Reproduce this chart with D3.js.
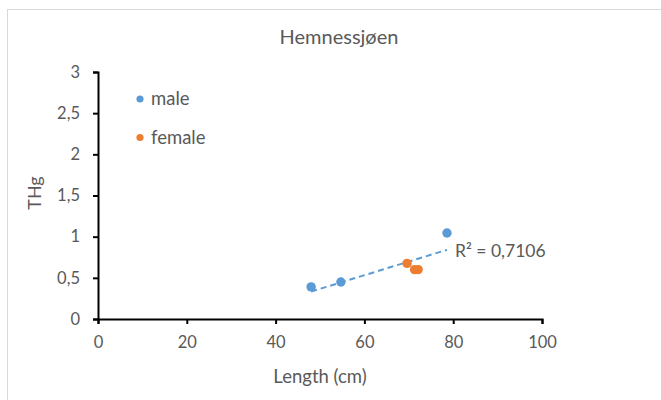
<!DOCTYPE html>
<html>
<head>
<meta charset="utf-8">
<script src="https://cdn.jsdelivr.net/npm/d3@7"></script>
<style>
  html, body { margin: 0; padding: 0; background: #fff; }
  svg { display: block; font-family: Lato, "Open Sans", sans-serif; }
</style>
</head>
<body>
<svg id="chart" width="661" height="400"></svg>
<script>
// Fish length (cm) and total mercury (THg) per sex
const maleLength = [48.0, 54.7, 78.6];
const maleTHg = [0.39, 0.45, 1.045];
const femaleLength = [69.6, 71.3, 72.1];
const femaleTHg = [0.675, 0.60, 0.60];
const xTicks = [0, 20, 40, 60, 80, 100];
const yTicks = [0, 0.5, 1, 1.5, 2, 2.5, 3];
const seriesNames = ["male", "female"];
const seriesColors = ["#5B9BD5", "#ED7D31"];

const svg = d3.select("#chart");
const W = 661, H = 400;
const m = { left: 98, right: 119, top: 72, bottom: 81 };

// chart area frame
svg.append("rect")
  .attr("x", 7.5).attr("y", 9.5)
  .attr("width", W).attr("height", H)
  .attr("fill", "#fff").attr("stroke", "#d9d9d9").attr("stroke-width", 1);

const x = d3.scaleLinear().domain([0, 100]).range([m.left, W - m.right]);
const y = d3.scaleLinear().domain([0, 3]).range([H - m.bottom, m.top]);

const fmt = d => String(d).replace(".", ",");
const textColor = "#595959";

// axes
const xAxis = svg.append("g")
  .attr("transform", `translate(0,${y(0)})`)
  .call(d3.axisBottom(x).tickValues(xTicks).tickFormat(fmt).tickSize(5).tickPadding(12));
const yAxis = svg.append("g")
  .attr("transform", `translate(${x(0)},0)`)
  .call(d3.axisLeft(y).tickValues(yTicks).tickFormat(fmt).tickSize(5).tickPadding(13));
[xAxis, yAxis].forEach(g => {
  g.select(".domain").attr("stroke", "#000").attr("stroke-width", 2);
  g.selectAll(".tick line").attr("stroke", "#000").attr("stroke-width", 2);
  g.selectAll(".tick text").attr("fill", textColor)
    .style("font-size", "16.5px").style("font-family", "Lato, 'Open Sans', sans-serif");
});

// least-squares trendline over all fish
const allX = maleLength.concat(femaleLength);
const allY = maleTHg.concat(femaleTHg);
const mx = d3.mean(allX), my = d3.mean(allY);
const sxy = d3.sum(allX, (v, i) => (v - mx) * (allY[i] - my));
const sxx = d3.sum(allX, v => (v - mx) * (v - mx));
const slope = sxy / sxx, intercept = my - slope * mx;
const [x0, x1] = d3.extent(allX);
svg.append("line")
  .attr("x1", x(x0)).attr("y1", y(intercept + slope * x0))
  .attr("x2", x(x1)).attr("y2", y(intercept + slope * x1))
  .attr("stroke", "#5B9BD5").attr("stroke-width", 2)
  .attr("stroke-dasharray", "6,4");

svg.append("text")
  .attr("x", x(x1) + 8).attr("y", y(intercept + slope * x1) + 7)
  .attr("fill", textColor).style("font-size", "17.5px")
  .text("R² = 0,7106");

// points
const series = [
  { len: maleLength, thg: maleTHg, color: seriesColors[0] },
  { len: femaleLength, thg: femaleTHg, color: seriesColors[1] }
];
series.forEach(s => {
  svg.append("g").selectAll("circle")
    .data(s.len.map((v, i) => [v, s.thg[i]]))
    .join("circle")
    .attr("cx", d => x(d[0])).attr("cy", d => y(d[1]))
    .attr("r", 4.7).attr("fill", s.color);
});

// legend
const legend = svg.append("g").attr("transform", "translate(140,99)");
seriesNames.forEach((name, i) => {
  const g = legend.append("g").attr("transform", `translate(0,${i * 38.5})`);
  g.append("circle").attr("r", 3.6).attr("fill", seriesColors[i]);
  g.append("text").attr("x", 11).attr("y", 6)
    .attr("fill", textColor).style("font-size", "18.5px").text(name);
});

// titles
svg.append("text")
  .attr("x", 339).attr("y", 44).attr("text-anchor", "middle")
  .attr("fill", textColor).style("font-size", "20px").text("Hemnessjøen");
svg.append("text")
  .attr("x", 320).attr("y", 383).attr("text-anchor", "middle")
  .attr("fill", textColor).style("font-size", "18.5px").text("Length (cm)");
svg.append("text")
  .attr("transform", "translate(41,193) rotate(-90)").attr("text-anchor", "middle")
  .attr("fill", textColor).style("font-size", "18px").text("THg");
</script>
</body>
</html>
